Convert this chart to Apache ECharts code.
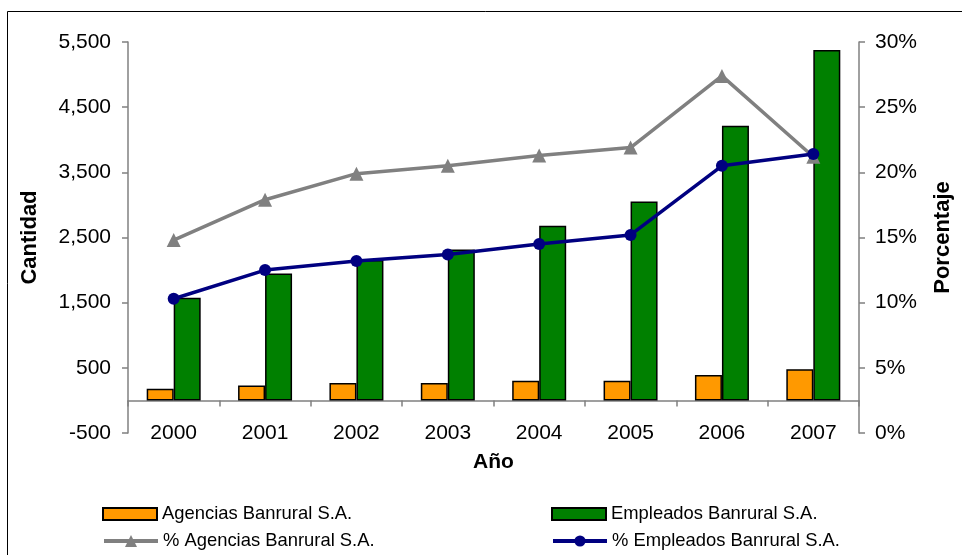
<!DOCTYPE html>
<html>
<head>
<meta charset="utf-8">
<script src="https://cdn.jsdelivr.net/npm/echarts@6/dist/echarts.min.js"></script>
<style>
  html, body { margin: 0; padding: 0; background: #fff; }
  #chart { width: 962px; height: 555px; }
</style>
</head>
<body>
<div id="chart"></div>
<script>
const years = ['2000', '2001', '2002', '2003', '2004', '2005', '2006', '2007']
const agencias = [178, 230, 266, 266, 301, 301, 389, 480]
const empleados = [1576, 1949, 2154, 2317, 2679, 3052, 4215, 5378]
const pctAgencias = [14.8, 17.9, 19.9, 20.5, 21.3, 21.9, 27.4, 21.2]
const pctEmpleados = [10.3, 12.5, 13.2, 13.7, 14.5, 15.2, 20.5, 21.4]

const font = 'Liberation Sans, Arial, sans-serif'
const chart = echarts.init(document.getElementById('chart'))

// one legend per entry, placed in a 2x2 block like the original
function legendItem(name, left, top, extra) {
  return Object.assign({
    left: left,
    top: top,
    itemWidth: 54,
    itemHeight: 12,
    itemGap: 0,
    textStyle: { fontSize: 18.4, fontFamily: font, color: '#000' },
    data: [name],
  }, extra)
}

chart.setOption({
  animation: false,
  textStyle: { fontFamily: font, color: '#000' },
  graphic: [
    {
      // outer chart border (right/bottom edges fall outside the picture)
      type: 'rect',
      shape: { x: 7.5, y: 11.5, width: 1000, height: 600 },
      style: { fill: 'none', stroke: '#000', lineWidth: 1 },
      silent: true,
    },
  ],
  grid: { left: 128, right: 100, top: 42, bottom: 122 },
  legend: [
    legendItem('Agencias Banrural S.A.', 97, 500, { icon: 'rect' }),
    legendItem('% Agencias Banrural S.A.', 97, 527, { itemHeight: 15, lineStyle: { width: 4 } }),
    legendItem('Empleados Banrural S.A.', 546, 500, { icon: 'rect' }),
    legendItem('% Empleados Banrural S.A.', 546, 527, { itemHeight: 14, lineStyle: { width: 4 } }),
  ],
  xAxis: [
    {
      type: 'category',
      data: years,
      position: 'bottom',
      axisLine: { show: false, onZero: false },
      axisTick: { show: false },
      axisLabel: { fontSize: 21, color: '#000', margin: 0, verticalAlign: 'middle' },
      name: 'Año',
      nameLocation: 'middle',
      nameGap: 19,
      nameTextStyle: { fontSize: 21, fontWeight: 'bold', color: '#000' },
    },
    {
      // line at value 0 with tick marks between the years
      type: 'category',
      data: years,
      position: 'bottom',
      axisLine: { show: true, onZero: true, onZeroAxisIndex: 0, lineStyle: { color: '#808080', width: 1.5 } },
      axisTick: { show: true, length: 6, lineStyle: { color: '#808080', width: 1.5 } },
      axisLabel: { show: false },
    },
  ],
  yAxis: [
    {
      type: 'value',
      min: -500,
      max: 5500,
      interval: 1000,
      splitLine: { show: false },
      axisLine: { show: true, lineStyle: { color: '#808080', width: 1.5 } },
      axisTick: { show: true, length: 6, lineStyle: { color: '#808080', width: 1.5 } },
      axisLabel: {
        fontSize: 21,
        color: '#000',
        margin: 17,
        formatter: (v) => v.toLocaleString('en-US'),
      },
      name: 'Cantidad',
      nameLocation: 'middle',
      nameGap: 87,
      nameRotate: 90,
      nameTextStyle: { fontSize: 22, fontWeight: 'bold', color: '#000' },
    },
    {
      type: 'value',
      min: 0,
      max: 30,
      interval: 5,
      position: 'right',
      splitLine: { show: false },
      axisLine: { show: true, lineStyle: { color: '#808080', width: 1.5 } },
      axisTick: { show: true, length: 6, lineStyle: { color: '#808080', width: 1.5 } },
      axisLabel: { fontSize: 21, color: '#000', margin: 16, formatter: '{value}%' },
      name: 'Porcentaje',
      nameLocation: 'middle',
      nameGap: 73,
      nameRotate: 90,
      nameTextStyle: { fontSize: 22, fontWeight: 'bold', color: '#000' },
    },
  ],
  series: [
    {
      name: 'Agencias Banrural S.A.',
      type: 'bar',
      yAxisIndex: 0,
      barWidth: 27,
      barGap: 0,
      itemStyle: { color: '#FF9900', borderColor: '#000', borderWidth: 1.5 },
      data: agencias,
    },
    {
      name: 'Empleados Banrural S.A.',
      type: 'bar',
      yAxisIndex: 0,
      barWidth: 27,
      barGap: 0,
      itemStyle: { color: '#008000', borderColor: '#000', borderWidth: 1.5 },
      data: empleados,
    },
    {
      name: '% Agencias Banrural S.A.',
      type: 'line',
      yAxisIndex: 1,
      symbol: 'triangle',
      symbolSize: 14,
      lineStyle: { color: '#808080', width: 3.5 },
      itemStyle: { color: '#808080' },
      data: pctAgencias,
    },
    {
      name: '% Empleados Banrural S.A.',
      type: 'line',
      yAxisIndex: 1,
      symbol: 'circle',
      symbolSize: 12,
      lineStyle: { color: '#000080', width: 3.5 },
      itemStyle: { color: '#000080' },
      data: pctEmpleados,
    },
  ],
})
</script>
</body>
</html>
